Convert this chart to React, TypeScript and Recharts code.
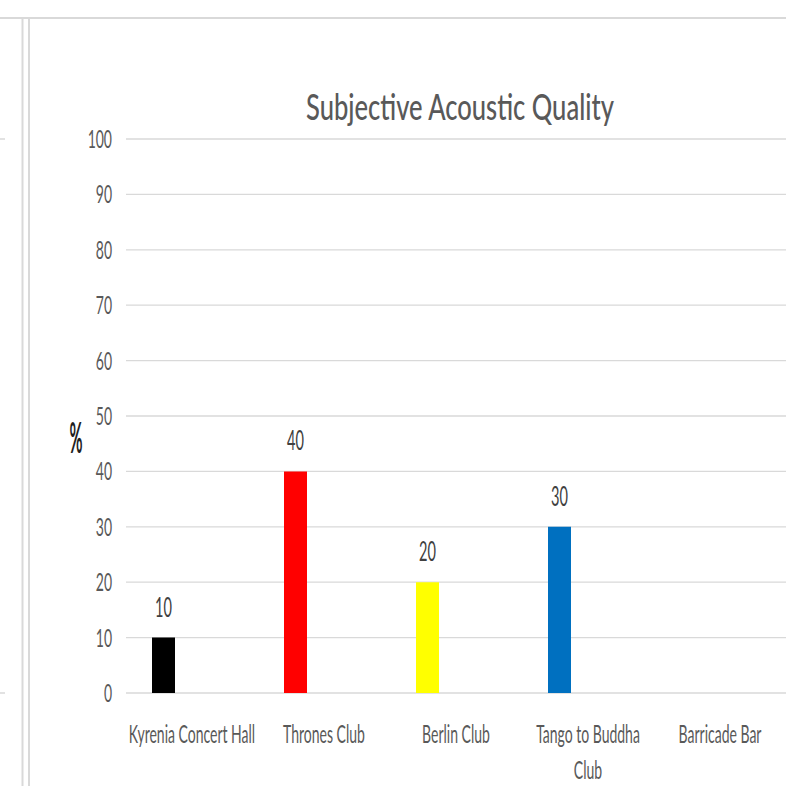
import React from 'react';
import { BarChart, Bar, XAxis, YAxis, CartesianGrid, Cell, LabelList } from 'recharts';

const CATEGORIES = [
  'Kyrenia Concert Hall',
  'Thrones Club',
  'Berlin Club',
  'Tango to Buddha Club',
  'Barricade Bar',
];
const VALUES: (number | null)[] = [10, 40, 20, 30, null];
const BAR_COLORS = ['#000000', '#FF0000', '#FFFF00', '#0070C0', '#A5A5A5'];
const Y_TICKS = [0, 10, 20, 30, 40, 50, 60, 70, 80, 90, 100];
const TITLE = 'Subjective Acoustic Quality';
const Y_LABEL = '%';

const data = CATEGORIES.map((name, i) => ({ name, value: VALUES[i], empty: null }));

const FONT = 'Lato, "Open Sans", sans-serif';
const SX = 0.56; // excel text looks squeezed horizontally
const GRID = '#d9d9d9';
const TEXT = '#595959';

// narrow text helper
const Squeezed: React.FC<{
  x: number; y: number; anchor: 'start' | 'middle' | 'end';
  size: number; fill: string; sx?: number; weight?: number | string;
  children: React.ReactNode;
}> = ({ x, y, anchor, size, fill, sx = SX, weight = 400, children }) => (
  <text
    transform={`translate(${x},${y}) scale(${sx},1)`}
    textAnchor={anchor}
    fontFamily={FONT}
    fontSize={size}
    fontWeight={weight}
    fill={fill}
  >
    {children}
  </text>
);

let ctx: CanvasRenderingContext2D | null = null;
const measure = (s: string, size: number) => {
  if (!ctx) ctx = document.createElement('canvas').getContext('2d');
  if (!ctx) return s.length * size * 0.5 * SX;
  ctx.font = `${size}px Lato`;
  return ctx.measureText(s).width * SX;
};

const wrap = (s: string, size: number, maxW: number) => {
  const words = s.split(' ');
  const lines: string[] = [];
  let cur = '';
  words.forEach((w) => {
    const next = cur ? `${cur} ${w}` : w;
    if (cur && measure(next, size) > maxW) {
      lines.push(cur);
      cur = w;
    } else cur = next;
  });
  if (cur) lines.push(cur);
  return lines;
};

const YTick = (props: any) => {
  const { x, y, payload } = props;
  return (
    <Squeezed x={x} y={y + 9} anchor="end" size={25} fill={TEXT}>
      {payload.value}
    </Squeezed>
  );
};

const NoTick = () => <g />;

const XTick = (props: any) => {
  const { x, y, payload } = props;
  const lines = wrap(payload.value, 25, 131);
  return (
    <g>
      {lines.map((l, i) => (
        <Squeezed key={i} x={x} y={y + 50 + i * 36} anchor="middle" size={25} fill={TEXT}>
          {l}
        </Squeezed>
      ))}
    </g>
  );
};

const ValueLabel = (props: any) => {
  const { x, y, width, value } = props;
  if (value == null) return null;
  return (
    <Squeezed x={Number(x) + Number(width) / 2} y={Number(y) - 21} anchor="middle" size={26} fill="#404040">
      {value}
    </Squeezed>
  );
};

export default function App() {
  return (
    <div style={{ position: 'absolute', left: 0, top: 0, width: 786, height: 786, background: '#fff', overflow: 'hidden' }}>
      {/* grid stubs of the neighbouring chart on the left */}
      <div style={{ position: 'absolute', left: -40, top: 0 }}>
        <BarChart width={45} height={786} data={data} margin={{ top: 139, right: 0, bottom: 0, left: 0 }}>
          <CartesianGrid vertical={false} stroke={GRID} strokeWidth={1.3} />
          <XAxis dataKey="name" height={93} axisLine={false} tickLine={false} tick={<NoTick />} />
          <YAxis
            domain={[0, 100]}
            ticks={Y_TICKS}
            interval={0}
            width={1}
            axisLine={false}
            tickLine={false}
            tick={<NoTick />}
          />
        </BarChart>
      </div>

      <div style={{ position: 'absolute', left: 0, top: 0 }}>
        <BarChart
          width={786}
          height={786}
          data={data}
          margin={{ top: 139, right: 0, bottom: 0, left: 66 }}
          barSize={23}
          barGap={35}
        >
          <CartesianGrid vertical={false} stroke={GRID} strokeWidth={1.3} />
          <XAxis
            dataKey="name"
            height={93}
            axisLine={false}
            tickLine={false}
            tickSize={0}
            tickMargin={0}
            interval={0}
            tick={<XTick />}
          />
          <YAxis
            domain={[0, 100]}
            ticks={Y_TICKS}
            interval={0}
            width={60}
            axisLine={false}
            tickLine={false}
            tickSize={0}
            tickMargin={14}
            tick={<YTick />}
          />
          <Bar dataKey="value" isAnimationActive={false}>
            {data.map((_, i) => (
              <Cell key={i} fill={BAR_COLORS[i]} />
            ))}
            <LabelList dataKey="value" content={<ValueLabel />} />
          </Bar>
          <Bar dataKey="empty" fill="#ED7D31" isAnimationActive={false} />
        </BarChart>
      </div>

      {/* frame, title and axis title */}
      <svg width={786} height={786} style={{ position: 'absolute', left: 0, top: 0, pointerEvents: 'none' }}>
        <line x1={0} y1={18} x2={786} y2={18} stroke={GRID} strokeWidth={2} />
        <line x1={22.5} y1={18} x2={22.5} y2={786} stroke={GRID} strokeWidth={2} />
        <line x1={29} y1={18} x2={29} y2={786} stroke={GRID} strokeWidth={2} />
        <Squeezed x={460} y={120} anchor="middle" size={36} sx={0.71} fill={TEXT} weight={500}>
          {TITLE}
        </Squeezed>
        <Squeezed x={76} y={453} anchor="middle" size={42} sx={0.38} weight={700} fill="#1f1f1f">
          {Y_LABEL}
        </Squeezed>
      </svg>
    </div>
  );
}
